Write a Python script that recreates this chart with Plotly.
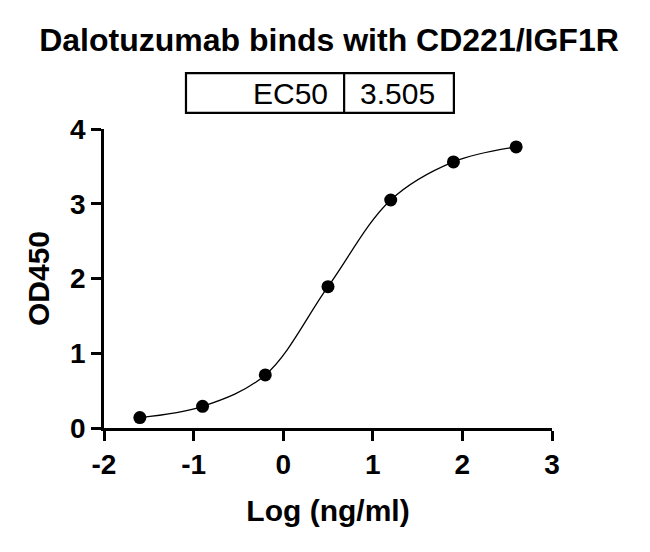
import plotly.graph_objects as go

# measured points: log concentration vs OD450
log_conc = [-1.6, -0.9, -0.2, 0.5, 1.2, 1.9, 2.6]
od450 = [0.14, 0.29, 0.71, 1.89, 3.05, 3.56, 3.76]

x_ticks = [-2, -1, 0, 1, 2, 3]
x_ticklabels = ["-2", "-1", "0", "1", "2", "3"]
y_ticks = [0, 1, 2, 3, 4]

ec50_label = "EC50"
ec50_value = "3.505"

title = "Dalotuzumab binds with CD221/IGF1R"
x_title = "Log (ng/ml)"
y_title = "OD450"

FONT = "Arial, Liberation Sans, sans-serif"

fig = go.Figure()

# fitted curve (smoothed through the points)
fig.add_trace(go.Scatter(
    x=log_conc,
    y=od450,
    mode='lines',
    line=dict(color='black', width=1.3, shape='spline', smoothing=1.0),
    hoverinfo='skip'
))

fig.add_trace(go.Scatter(
    x=log_conc,
    y=od450,
    mode='markers',
    marker=dict(color='black', size=13),
    cliponaxis=False
))

axis_common = dict(
    showline=True,
    linecolor='black',
    linewidth=2.7,
    ticks='outside',
    ticklen=10,
    tickwidth=2.7,
    tickcolor='black',
    showgrid=False,
    zeroline=False,
    tickfont=dict(family=FONT, size=28, color='black', weight='bold'),
)

fig.update_xaxes(
    range=[-2, 3],
    tickvals=x_ticks,
    ticktext=x_ticklabels,
    title=dict(text=x_title, font=dict(family=FONT, size=30, color='black', weight='bold'), standoff=21),
    **axis_common
)
fig.update_yaxes(
    range=[0, 4],
    tickvals=y_ticks,
    title=dict(text=y_title, font=dict(family=FONT, size=30, color='black', weight='bold'), standoff=12),
    **axis_common
)

# EC50 table above the plot
box_x0, box_xd, box_x1 = 0.183, 0.536, 0.781
box_y0, box_y1 = 1.054, 1.187
fig.add_shape(type='rect', xref='paper', yref='paper',
              x0=box_x0, x1=box_x1, y0=box_y0, y1=box_y1,
              line=dict(color='black', width=2.2))
fig.add_shape(type='line', xref='paper', yref='paper',
              x0=box_xd, x1=box_xd, y0=box_y0, y1=box_y1,
              line=dict(color='black', width=2.2))
fig.add_annotation(xref='paper', yref='paper', x=0.504, y=1.118,
                   text=ec50_label, showarrow=False, xanchor='right', yanchor='middle',
                   font=dict(family=FONT, size=30, color='black'))
fig.add_annotation(xref='paper', yref='paper', x=0.567, y=1.118,
                   text=ec50_value, showarrow=False, xanchor='left', yanchor='middle',
                   font=dict(family=FONT, size=30, color='black'))

# page body adds an 8px offset, so the figure is 8px smaller than the window
fig.update_layout(
    width=642,
    height=544,
    margin=dict(l=96, r=98, t=121, b=124),
    paper_bgcolor='white',
    plot_bgcolor='white',
    showlegend=False,
    title=dict(text=title, x=0.5, xanchor='center', y=1 - 32 / 544, yanchor='middle',
               font=dict(family=FONT, size=32, color='black', weight='bold')),
)

fig.write_html("out.html")
